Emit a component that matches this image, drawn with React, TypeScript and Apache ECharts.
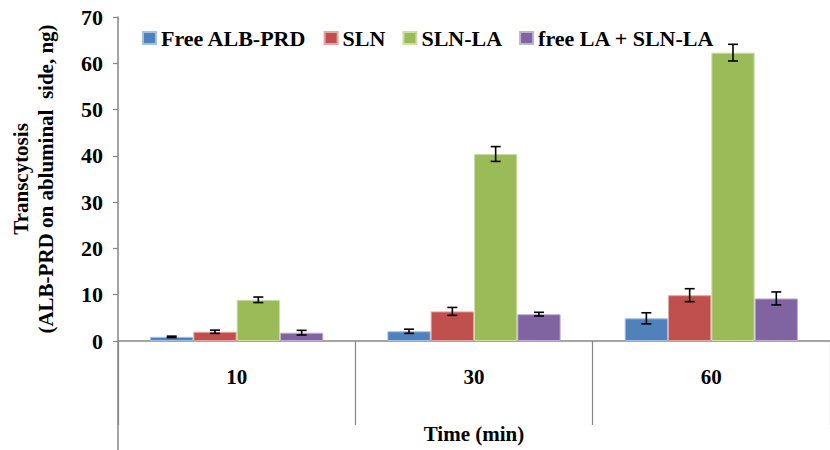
import React, { useEffect, useRef } from "react";
import * as echarts from "echarts";

const categories = ["10", "30", "60"];
const seriesNames = ["Free ALB-PRD", "SLN", "SLN-LA", "free LA + SLN-LA"];
const freeAlbPrd = [0.9, 2.1, 4.9];
const freeAlbPrdErr = [0.15, 0.45, 1.2];
const sln = [2.0, 6.4, 9.9];
const slnErr = [0.35, 0.85, 1.4];
const slnLa = [8.9, 40.4, 62.3];
const slnLaErr = [0.6, 1.6, 1.8];
const freeLaSlnLa = [1.8, 5.8, 9.2];
const freeLaSlnLaErr = [0.5, 0.4, 1.4];
const yTicks = [0, 10, 20, 30, 40, 50, 60, 70];

const colors = ["#4F81BD", "#C0504D", "#9BBB59", "#8064A2"];
const borders = ["#A7C0DE", "#DFA8A6", "#CDDDAC", "#BFB1D0"];
const FONT = "'Liberation Serif', 'Times New Roman', serif";
const CAT_GAP = 0.27;

export default function App() {
  const ref = useRef<HTMLDivElement>(null);
  useEffect(() => {
    if (!ref.current) return;
    const chart = echarts.init(ref.current, undefined, { renderer: "svg" });
    const values = [freeAlbPrd, sln, slnLa, freeLaSlnLa];
    const errs = [freeAlbPrdErr, slnErr, slnLaErr, freeLaSlnLaErr];
    const n = values.length;

    const barSeries = values.map((vals, i) => ({
      type: "bar",
      name: seriesNames[i],
      data: vals,
      barGap: "0%",
      barCategoryGap: CAT_GAP * 100 + "%",
      itemStyle: { color: colors[i], borderColor: borders[i], borderWidth: 1 },
    }));

    const errSeries = values.map((vals, i) => ({
      type: "custom",
      name: "err" + i,
      z: 10,
      data: vals.map((v, k) => [k, v, errs[i][k]]),
      renderItem: (params: any, api: any) => {
        const cat = api.value(0);
        const v = api.value(1);
        const e = api.value(2);
        const band = api.size([1, 0])[0];
        const barW = (band * (1 - CAT_GAP)) / n;
        const x = api.coord([cat, v])[0] + (i - (n - 1) / 2) * barW;
        const yTop = api.coord([cat, v + e])[1];
        const yBot = api.coord([cat, v - e])[1];
        const cap = 5;
        const style = { stroke: "#000", lineWidth: 1.6 };
        return {
          type: "group",
          children: [
            { type: "line", shape: { x1: x, y1: yTop, x2: x, y2: yBot }, style },
            { type: "line", shape: { x1: x - cap, y1: yTop, x2: x + cap, y2: yTop }, style },
            { type: "line", shape: { x1: x - cap, y1: yBot, x2: x + cap, y2: yBot }, style },
          ],
        };
      },
    }));

    const option: any = {
      animation: false,
      legend: {
        data: seriesNames,
        left: 137,
        top: 22,
        icon: "rect",
        itemWidth: 13,
        itemHeight: 12,
        itemGap: 17,
        textStyle: { fontFamily: FONT, fontWeight: "bold", fontSize: 22, color: "#000" },
      },
      grid: { left: 117, top: 17, right: -10, bottom: 109 },
      xAxis: {
        type: "category",
        data: categories,
        name: "Time (min)",
        nameLocation: "middle",
        nameGap: 82,
        nameTextStyle: { fontFamily: FONT, fontWeight: "bold", fontSize: 21, color: "#000" },
        axisLine: { lineStyle: { color: "#868686", width: 1.5 } },
        axisTick: { show: true, interval: 0, length: 84, lineStyle: { color: "#868686", width: 1.2 } },
        axisLabel: { margin: 25, fontFamily: FONT, fontWeight: "bold", fontSize: 21, color: "#000" },
      },
      yAxis: {
        type: "value",
        min: yTicks[0],
        max: yTicks[yTicks.length - 1],
        interval: 10,
        name: "Transcytosis\n(ALB-PRD on abluminal  side, ng)",
        nameLocation: "middle",
        nameGap: 60,
        nameTextStyle: { fontFamily: FONT, fontWeight: "bold", fontSize: 21, color: "#000", lineHeight: 25 },
        axisLine: { show: true, lineStyle: { color: "#868686", width: 1.5 } },
        axisTick: { show: true, length: 5, lineStyle: { color: "#868686", width: 1.2 } },
        axisLabel: { margin: 15, fontFamily: FONT, fontWeight: "bold", fontSize: 22, color: "#000" },
        splitLine: { show: false },
      },
      series: [...barSeries, ...errSeries],
    };
    chart.setOption(option);

    const p0 = chart.convertToPixel({ gridIndex: 0 } as any, [0, 0]) as number[];
    const p1 = chart.convertToPixel({ gridIndex: 0 } as any, [1, 0]) as number[];
    const axisX = p0[0] - (p1[0] - p0[0]) / 2;
    chart.setOption({
      graphic: [
        {
          type: "line",
          shape: { x1: axisX, y1: p0[1], x2: axisX, y2: 450 },
          style: { stroke: "#868686", lineWidth: 1.5 },
        },
      ],
    });

    return () => chart.dispose();
  }, []);
  return <div ref={ref} style={{ width: 830, height: 450, position: "absolute", left: 0, top: 0 }} />;
}
